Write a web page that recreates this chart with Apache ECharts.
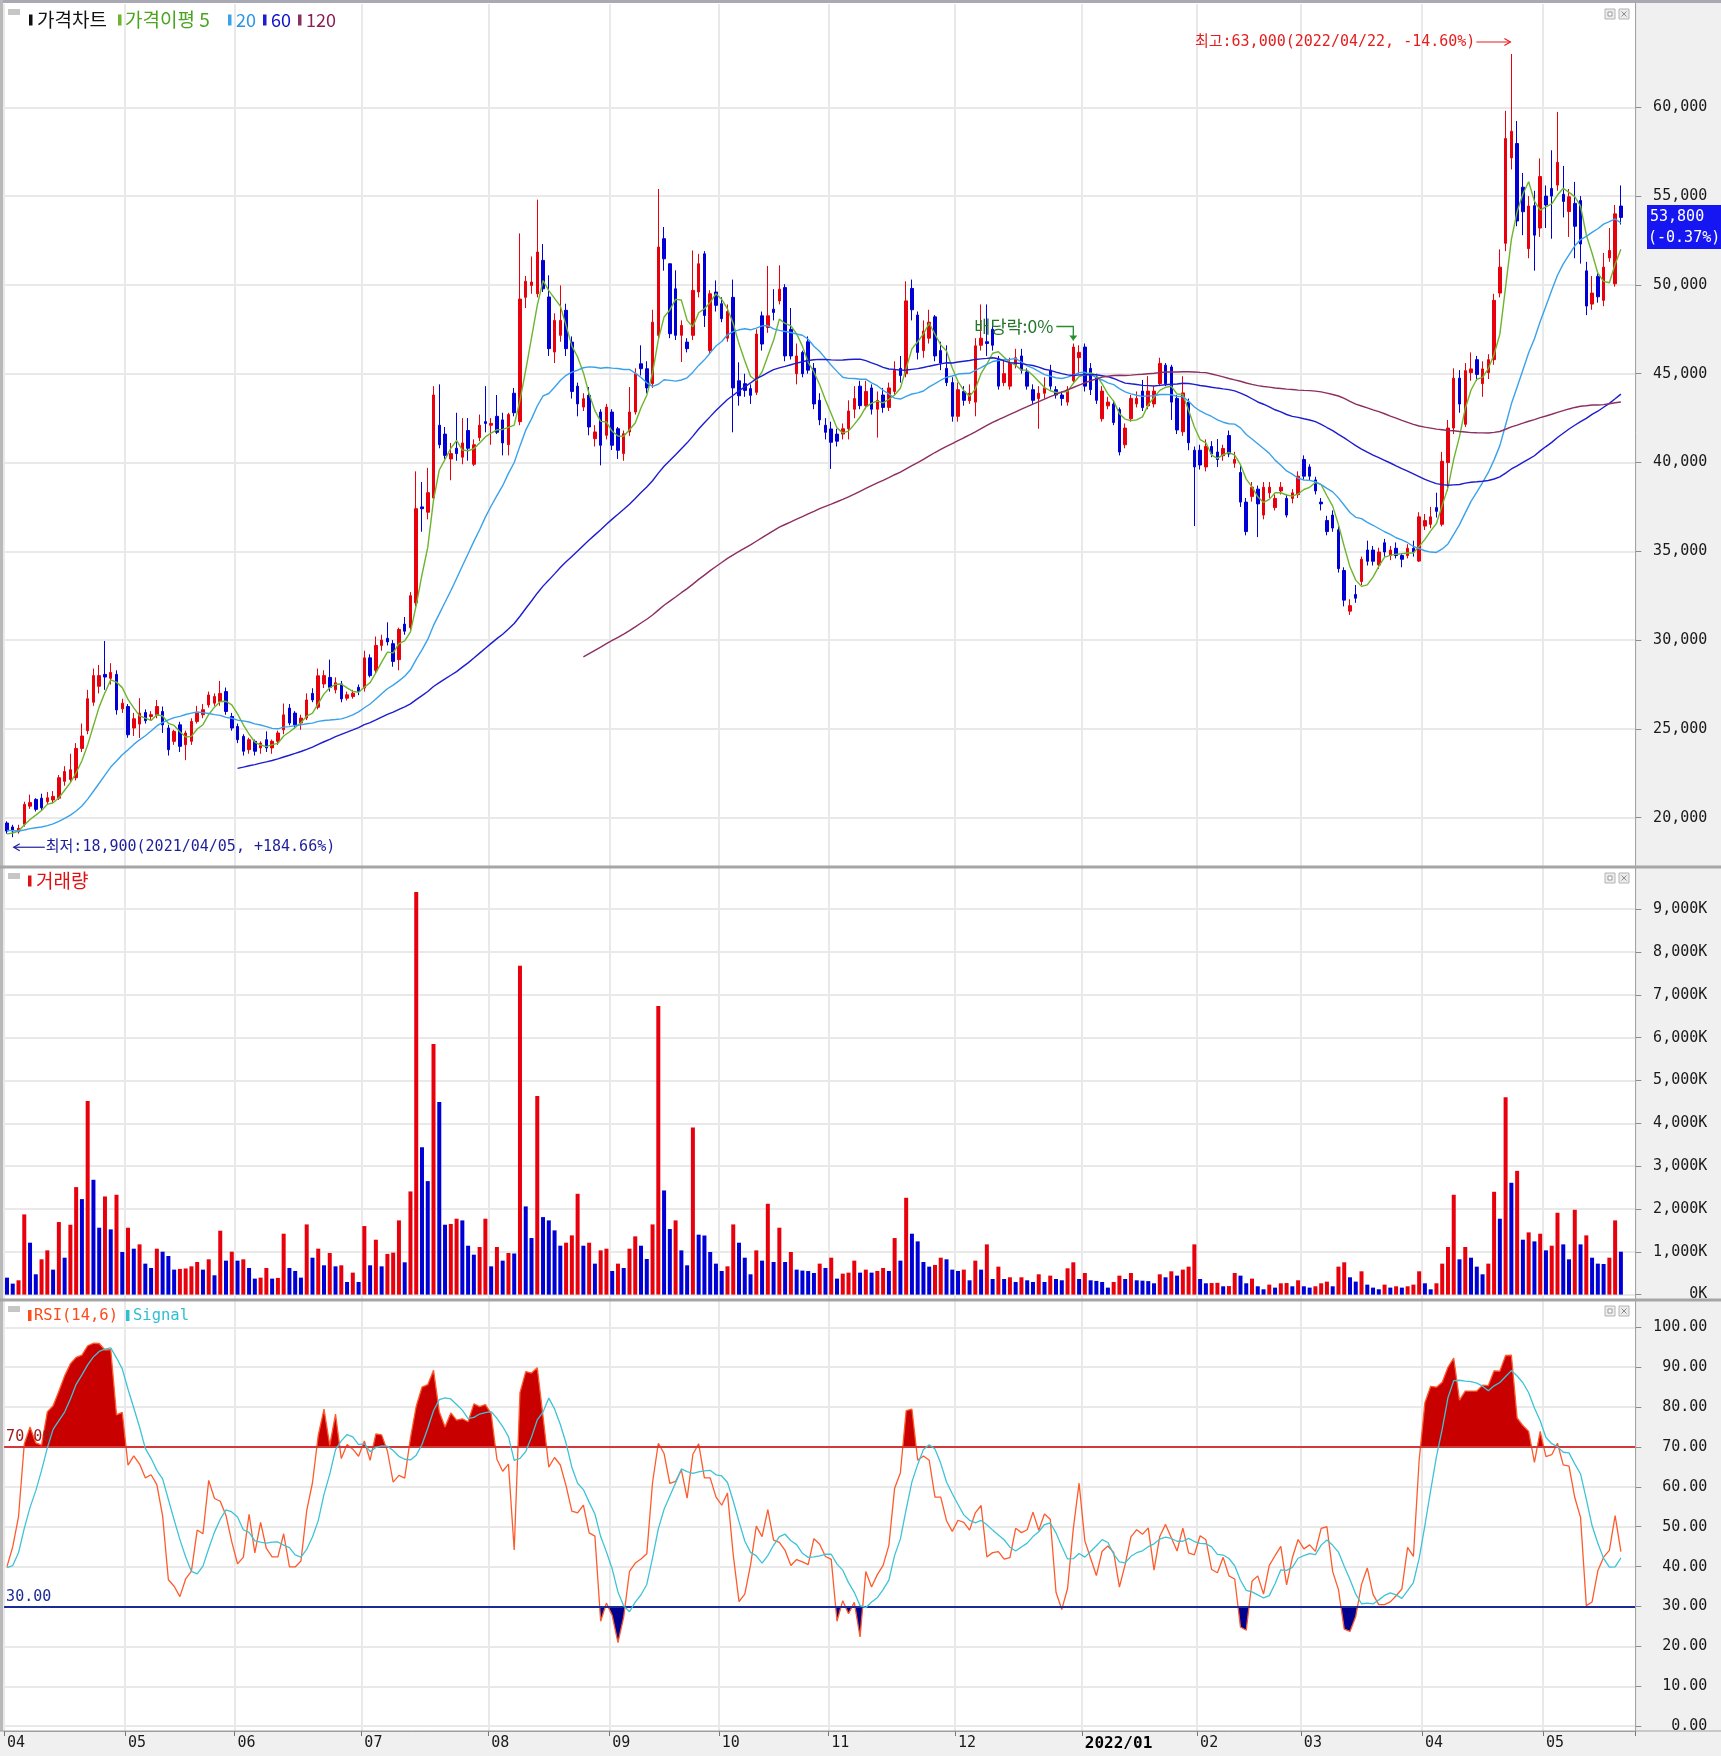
<!DOCTYPE html>
<html><head><meta charset="utf-8">
<script src="https://cdn.jsdelivr.net/npm/echarts/dist/echarts.min.js"></script>
<style>html,body{margin:0;padding:0;background:#fff}#c{width:1721px;height:1756px}</style>
</head><body><div id="c"></div>
<script>
// ---------------- DATA ----------------
const tradingDays = [
  ['2021/04',[2,5,6,7,8,9,12,13,14,15,16,19,20,21,22,23,26,27,28,29,30]],
  ['2021/05',[3,4,6,7,10,11,12,13,14,17,18,20,21,24,25,26,27,28,31]],
  ['2021/06',[1,2,3,4,7,8,9,10,11,14,15,16,17,18,21,22,23,24,25,28,29,30]],
  ['2021/07',[1,2,5,6,7,8,9,12,13,14,15,16,19,20,21,22,23,26,27,28,29,30]],
  ['2021/08',[2,3,4,5,6,9,10,11,12,13,17,18,19,20,23,24,25,26,27,30,31]],
  ['2021/09',[1,2,3,6,7,8,9,10,13,14,15,16,17,23,24,27,28,29,30]],
  ['2021/10',[1,5,6,7,8,12,13,14,15,18,19,20,21,22,25,26,27,28,29]],
  ['2021/11',[1,2,3,4,5,8,9,10,11,12,15,16,17,18,19,22,23,24,25,26,29,30]],
  ['2021/12',[1,2,3,6,7,8,9,10,13,14,15,16,17,20,21,22,23,24,27,28,29,30]],
  ['2022/01',[3,4,5,6,7,10,11,12,13,14,17,18,19,20,21,24,25,26,27,28]],
  ['2022/02',[3,4,7,8,9,10,11,14,15,16,17,18,21,22,23,24,25,28]],
  ['2022/03',[2,3,4,7,8,10,11,14,15,16,17,18,21,22,23,24,25,28,29,30,31]],
  ['2022/04',[1,4,5,6,7,8,11,12,13,14,15,18,19,20,21,22,25,26,27,28,29]],
  ['2022/05',[2,3,4,6,9,10,11,12,13,16,17,18,19,20]]
];

// closes of the days before the first visible candle (they feed the moving averages / RSI)
const preCloses = [19550,19800,19600,19350,19500,19700,19450,19300,19400,19250,19050,19200,19000,18950,19150,19000,18850,19050,19300];

// [open, close, low, high]
const apr21 = [[19700,19250,19100,19800],[19480,19250,18900,19600],[19200,19400,19100,19600],[19630,20750,19500,20900],[20650,20850,20500,21300],[21030,20470,20350,21100],[21100,20560,20400,21350],[20900,21120,20750,21450],[21000,21200,20800,21500],[21100,22250,21000,22400],[22050,22600,21800,22900],[22150,22700,22000,23600],[22250,23900,22100,24200],[23900,24600,23700,25300],[24900,26700,24700,27200],[26500,28000,26300,28400],[27400,28000,27000,28600],[28070,27920,27200,29950],[27850,28180,27500,28700],[28070,26070,25800,28300],[26130,26450,25900,26700]];
const may21 = [[26260,24670,24500,26400],[25050,25570,24600,25900],[25270,25890,24490,26730],[25920,25460,25300,26100],[25700,25800,25500,26000],[25800,26260,25600,26630],[25980,25230,24770,26260],[25050,23830,23500,25230],[24300,24860,24100,24950],[25230,24020,23700,25400],[24110,24770,23240,24900],[24300,25420,24100,25600],[25420,25890,25300,26300],[25800,26080,25600,26400],[26350,26910,26200,27100],[26450,26820,26300,27000],[26540,27000,26300,27700],[27100,25980,25800,27330],[25700,25050,24900,25900]];
const jun21 = [[25140,24390,24200,25300],[24580,23740,23500,24700],[23830,24390,23600,24500],[24300,23740,23500,24400],[23930,24200,23600,24300],[24390,23930,23700,24860],[23930,24300,23600,24400],[24300,24770,24100,24900],[24950,25790,24700,26430],[26170,25330,25200,26400],[25890,25230,25000,26000],[25330,25610,24950,25800],[25610,26630,25500,27000],[27000,26630,26500,27290],[26220,27990,26100,28400],[27530,28000,27300,28300],[27900,27340,27100,28900],[27200,27600,27000,27900],[27530,26690,26500,27700],[26730,26920,26600,27100],[26820,27010,26700,27200],[27340,27100,26900,27500]];
const jul21 = [[27300,29000,27100,29400],[29000,28000,27900,29200],[28300,29700,28100,30200],[29700,30000,29400,30300],[30100,29900,29700,31000],[29800,28800,28500,30000],[28900,30600,28300,30700],[30900,30500,30300,31300],[30700,32500,30500,32700],[32100,37400,31900,39500],[37500,37400,36100,38900],[37200,38300,36800,39700],[38000,43800,37800,44300],[42100,41000,40800,44400],[41600,40400,40200,42000],[40200,40500,39000,41100],[40800,40500,40100,42800],[40300,41100,39900,42500],[41800,40800,40100,42500],[39900,41000,39800,41300],[41400,42100,41200,42700],[42300,42200,41700,44300]];
const aug21 = [[42100,42200,41000,42500],[42600,41700,41600,43800],[42400,41100,40400,42800],[41000,42700,40400,42800],[43900,42800,42600,44200],[42300,49200,42100,52900],[49300,50200,48700,50500],[49970,50160,49500,51600],[49500,51850,49300,54800],[51380,49780,49600,52300],[49320,46410,46000,50540],[46220,48000,45600,48400],[47160,48000,46800,49970],[48570,46410,46000,48940],[46780,44000,43600,47100],[44300,43300,42600,44500],[43120,43590,42900,43900],[43780,42000,41530,44250],[41340,41720,40900,42100],[42840,40970,39840,43000],[41530,43120,41300,43300]];
const sep21 = [[42840,40970,40700,43000],[41900,40690,40200,42000],[40500,41620,40100,41800],[41720,42840,41500,44250],[42840,45000,42700,45300],[45560,45280,44900,46600],[45280,44200,43900,45700],[44440,47900,44200,48600],[47160,52130,47000,55400],[52600,51470,50800,53260],[51190,47250,47000,51200],[49780,47160,46900,50820],[47160,47720,45660,48000],[46780,46410,46200,47000],[47160,49690,46900,51940],[49600,51190,49300,51750],[51750,48280,47630,51900],[46310,49500,46100,49700],[49600,48850,48500,50250]];
const oct21 = [[48940,48100,47900,49300],[47000,48500,46800,48900],[49300,44200,41700,50300],[44600,43760,43200,45640],[44440,44060,43700,45000],[44160,43780,43300,44400],[43950,47230,43800,47500],[48260,46670,46300,48500],[47600,48260,47300,51070],[48630,48450,48000,49760],[49100,49760,48900,51100],[49850,46000,45700,50040],[47500,46000,45800,48700],[45000,46000,44400,46700],[46200,45000,44800,46300],[46800,45200,45000,47100],[45300,43300,43000,45600],[43500,42400,42100,43900],[42100,41700,41300,42500]];
const nov21 = [[41890,41140,39640,42300],[41600,41200,40900,41900],[41600,41900,41300,42200],[41900,42900,41300,43500],[43000,43600,42500,44300],[44300,43200,43000,44600],[43200,44000,43000,44600],[44200,43000,42700,44400],[43000,43500,41400,44000],[43800,43100,42800,44200],[43100,44200,42900,44500],[44000,45200,43800,45700],[45300,44900,44500,46000],[45000,49100,44800,50200],[49800,48600,48000,50300],[48300,46200,45800,48500],[46300,47400,45900,48000],[47000,47900,46700,48600],[48200,46000,45700,48300],[46300,45600,45200,46800],[45300,44500,44300,46600],[44500,42600,42300,44800]];
const dec21 = [[42600,44100,42300,44500],[44000,43500,43200,44300],[43480,43900,43300,44400],[43400,46570,42600,47000],[46600,47000,46300,48900],[46800,46700,46000,48900],[47500,46600,46300,48000],[45800,44300,44100,46000],[44500,45000,44300,45800],[44300,45600,44100,45900],[45500,45900,45300,46400],[46000,45200,45000,46400],[45100,44300,44100,45300],[44100,43500,43300,44400],[43600,43900,41900,44300],[43900,44200,43600,44800],[45200,44300,44100,45500],[44100,43800,43600,44300],[43800,43600,43200,44000],[43400,44100,43200,44300],[44600,46500,44500,46700],[45900,46200,45000,46600]];
const jan22 = [[46500,44300,44000,46700],[45300,44100,43800,45600],[44800,43500,43300,45000],[42460,44020,42300,44300],[43190,43400,43000,43700],[43290,42250,42100,43500],[42980,40590,40400,43100],[41000,41940,40800,42200],[42460,43610,42300,43800],[43300,43610,43100,44000],[44020,43090,42900,44650],[43190,44020,43000,44860],[43300,44020,43100,44300],[44440,45580,44300,45900],[45480,44440,44300,45600],[45380,43400,42400,45500],[43610,41830,41600,43800],[41730,43920,41500,44860],[43400,41110,40690,43600],[40690,39750,36420,40900]];
const feb22 = [[40690,39860,39600,41000],[39750,40900,39500,41300],[40900,40480,40300,41200],[40590,40170,39750,41320],[40380,40790,40100,41000],[41520,40480,40300,41800],[39960,40170,39700,40600],[39440,37770,37500,39800],[37770,36110,35900,38000],[38090,38610,37800,38900],[38500,37670,35800,38700],[37040,38610,36800,38900],[38290,38610,38000,38900],[37460,37980,37300,38200],[38400,38610,38200,38900],[37980,37040,36900,38200],[37980,38290,37700,38500],[38190,39230,38000,39500]];
const mar22 = [[40170,39230,39000,40400],[39750,39230,39000,39900],[39020,38400,38200,39200],[37770,37670,37300,38000],[36730,36110,35900,37000],[37040,36310,36100,37300],[36210,34020,33800,36400],[33920,32250,31900,34100],[31630,31940,31420,32300],[32570,32360,32100,33100],[33300,34550,33100,34700],[35070,34440,34200,35600],[35070,34440,34200,35300],[34230,34960,34000,35200],[35480,34960,34700,35700],[34760,35070,34500,35300],[35170,34760,34600,35500],[34760,34550,34100,34900],[34760,35170,34600,35400],[35170,34960,34700,35600],[34450,36940,34400,37200]];
const apr22 = [[36420,36730,36200,37100],[36520,36940,36300,37500],[37460,37250,36900,38300],[36520,40070,36400,40600],[40000,41940,38400,42400],[41940,44750,41600,45300],[44750,43290,42800,45200],[42150,45170,42000,45600],[45060,45270,44600,46200],[45790,44960,44600,46000],[44440,45270,43700,45700],[45060,45790,44700,46100],[45790,49130,45500,49500],[49540,51000,49300,52000],[52340,58240,51900,59800],[57150,58650,56500,63000],[57960,53600,53300,59230],[55500,54120,52800,56300],[52040,54440,51500,55000],[54460,52800,50800,55300],[53200,56100,52700,57120]];
const may22 = [[55000,54500,53200,55600],[55430,55000,52600,57580],[55620,56900,55300,59740],[55100,54700,53800,56700],[54130,54960,52700,55400],[54590,53300,51500,55800],[54750,52300,51200,55000],[50790,48810,48300,51300],[48920,49540,48600,50500],[50480,49330,49000,50800],[49130,51000,48800,51800],[51520,51940,51300,53200],[50060,54000,49900,54500],[54440,53800,53400,55600]];

// volume, thousands of shares
const volumeK = [
 396,256,334,1873,1212,474,824,1033,583,1694, 862,1632,2510,2230,4522,2681,1562,2292,1523,2331,
 995,1562,1072,1173,723,622,1072,1002,901,583, 600,610,660,761,583,824,451,1492,793,1002,
 793,824,622,373,396,622,373,390,1422,622, 552,396,1639,862,1072,684,971,660,684,295,
 513,295,1601,684,1282,660,950,980,1733,754, 2409,9402,3442,2650,5851,4499,1632,1650,1772,1733,
 1142,932,1111,1772,660,1111,793,971,960,7677, 2059,1321,4639,1810,1733,1500,1142,1212,1383,2354,
 1142,1212,723,1033,1072,552,723,622,1072,1360, 1142,831,1639,6737,2432,1531,1733,1033,684,3900,
 1400,1380,995,723,552,660,1639,1212,862,474, 1033,793,2121,761,1562,761,995,583,560,550,
 505,723,622,862,373,490,513,793,513,583, 513,552,622,552,1321,793,2261,1422,1243,761,
 653,692,862,824,583,552,583,334,793,583, 1173,365,653,365,404,295,404,334,295,474,
 295,443,365,334,614,754,365,505,334,320, 295,163,295,443,365,505,334,325,315,264,
 474,404,544,443,583,653,1173,365,264,270, 275,194,200,505,443,264,373,194,124,233,
 163,264,270,194,334,194,163,194,264,303, 194,653,754,404,303,544,233,163,124,233,
 163,194,163,194,233,544,264,124,264,723, 1111,2331,824,1111,862,653,474,723,2401,1772,
 4608,2611,2890,1282,1453,1243,1422,1033,1142,1911, 1173,824,1981,1173,1383,862,723,715,862,1733,
 1002
];

const priceTicks = [20000, 60000, 5000];   // min, max, step
const volumeTicks = [0, 9000, 1000];
const rsiTicks = [0, 100, 10];
const rsiLevels = [70, 30];
const maPeriods = [5, 20, 60, 120];
const exDividendDate = '2021/12/29';
const exDividendText = '배당락:0%';

// ---------------- BUILD ----------------
const ohlc = [].concat(apr21, may21, jun21, jul21, aug21, sep21, oct21, nov21, dec21, jan22, feb22, mar22, apr22, may22);
const cats = [];
tradingDays.forEach(([m, ds]) => ds.forEach(d => cats.push(m + '/' + String(d).padStart(2, '0'))));
const catsAll = cats.concat(['~1', '~2']);
const monthStart = new Set();
cats.forEach((c, i) => { if (i === 0 || c.slice(0, 7) !== cats[i - 1].slice(0, 7)) monthStart.add(i); });
function monthLabel(i) {
  const c = cats[i]; const y = c.slice(0, 4), m = c.slice(5, 7);
  if (m === '01' && i > 0) return '{b|' + y + '/' + m + '}';
  return m;
}
const closes = ohlc.map(d => d[1]);
const allCloses = preCloses.concat(closes);
const P = preCloses.length;
function ma(n) {
  return closes.map((_, i) => {
    const g = i + P; if (g < n - 1) return null;
    let s = 0; for (let k = g - n + 1; k <= g; k++) s += allCloses[k];
    return +(s / n).toFixed(1);
  });
}
const rsiAll = allCloses.map((c, g) => {
  if (g < 14) return null;
  let u = 0, d = 0;
  for (let k = g - 13; k <= g; k++) { const ch = allCloses[k] - allCloses[k - 1]; if (ch > 0) u += ch; else d -= ch; }
  return (u + d) === 0 ? 50 : 100 * u / (u + d);
});
const sigAll = rsiAll.map((v, g) => {
  if (g < 19) return null; let s = 0; for (let k = g - 5; k <= g; k++) s += rsiAll[k]; return s / 6;
});
const rsi = rsiAll.slice(P).map(v => +v.toFixed(2));
const signal = sigAll.slice(P).map(v => +v.toFixed(2));

const RED = '#e8000c', BLUE = '#0000d6';
const volData = volumeK.map((v, i) => ({ value: v, itemStyle: { color: (i > 0 && v >= volumeK[i - 1]) ? RED : BLUE } }));

const MONO = '"DejaVu Sans Mono", "Noto Sans CJK KR", monospace';
const KR = '"Noto Sans CJK KR", "Noto Sans", sans-serif';
const GL = 4.1, GW = 1631.2;
const grids = [
  { top: 4, height: 862 },          // 0 main frame
  { top: 107.3, height: 710.4 },    // 1 price
  { top: 868, height: 431 },        // 2 volume frame
  { top: 909.2, height: 385.4 },    // 3 volume
  { top: 1301, height: 430 },       // 4 rsi frame
  { top: 1327.3, height: 398.9 },   // 5 rsi
  { top: 1327.3, height: 119.67 },  // 6 rsi >70 fill
  { top: 1606.53, height: 119.67 }  // 7 rsi <30 fill
].map(g => Object.assign({ left: GL, width: GW, outerBoundsMode: 'none', containLabel: false }, g));

const isMonth = (idx) => monthStart.has(idx);
const xAxes = grids.map((g, k) => {
  const frame = (k === 0 || k === 2 || k === 4);
  return {
    type: 'category', gridIndex: k, data: catsAll, boundaryGap: true,
    axisLine: { show: k === 4, lineStyle: { color: '#9a9a9a', width: 1 } },
    axisTick: { show: k === 4, interval: isMonth, length: 5, lineStyle: { color: '#777' } },
    axisLabel: {
      show: k === 4, interval: isMonth, formatter: (v, i) => monthLabel(i), align: 'left', margin: 5,
      color: '#1a1a1a', fontFamily: MONO, fontSize: 15,
      rich: { b: { fontFamily: MONO, fontSize: 16, fontWeight: 'bold', color: '#000' } }
    },
    splitLine: { show: frame, interval: isMonth, lineStyle: { color: '#e9e9e9', width: 2 } }
  };
});
function valAxis(k, min, max, step, fmt) {
  return {
    type: 'value', gridIndex: k, position: 'right', min, max, interval: step,
    axisLine: { show: false },
    axisTick: { show: true, length: 6, lineStyle: { color: '#8c8c8c' } },
    axisLabel: { show: true, align: 'right', margin: 72, formatter: fmt, color: '#1a1a1a', fontFamily: MONO, fontSize: 15 },
    splitLine: { show: true, lineStyle: { color: '#e9e9e9', width: 2 } }
  };
}
const hidden = (k, min, max) => ({ type: 'value', gridIndex: k, min, max, show: false, splitLine: { show: false } });
const yAxes = [
  hidden(0, 0, 1),
  valAxis(1, priceTicks[0], priceTicks[1], priceTicks[2], v => v.toLocaleString('en-US')),
  hidden(2, 0, 1),
  valAxis(3, volumeTicks[0], volumeTicks[1], volumeTicks[2], v => v.toLocaleString('en-US') + 'K'),
  hidden(4, 0, 1),
  valAxis(5, rsiTicks[0], rsiTicks[1], rsiTicks[2], v => v.toFixed(2)),
  hidden(6, rsiLevels[0], 100),
  hidden(7, 0, rsiLevels[1])
];

const maColors = ['#6cb52d', '#3aa2ea', '#1c1cd0', '#8c2f60'];
const series = [
  { type: 'candlestick', name: 'price', xAxisIndex: 1, yAxisIndex: 1, data: ohlc, clip: false, barWidth: 3, z: 2,
    itemStyle: { color: RED, color0: BLUE, borderColor: RED, borderColor0: BLUE, borderWidth: 1 } }
];
maPeriods.forEach((n, j) => series.push({
  type: 'line', name: 'MA' + n, xAxisIndex: 1, yAxisIndex: 1, data: ma(n), symbol: 'none', clip: false, z: 3,
  lineStyle: { color: maColors[j], width: 1.4 }, connectNulls: false
}));
series.push({ type: 'bar', name: 'vol', xAxisIndex: 3, yAxisIndex: 3, data: volData, barWidth: 4, clip: false, z: 2 });
series.push({ type: 'line', name: 'rsiHi', xAxisIndex: 6, yAxisIndex: 6, data: rsi, symbol: 'none', z: 1,
  lineStyle: { width: 0, opacity: 0 }, areaStyle: { color: '#c80000', opacity: 1, origin: 'start' } });
series.push({ type: 'line', name: 'rsiLo', xAxisIndex: 7, yAxisIndex: 7, data: rsi, symbol: 'none', z: 1,
  lineStyle: { width: 0, opacity: 0 }, areaStyle: { color: '#000090', opacity: 1, origin: 'end' } });
series.push({ type: 'line', name: 'RSI', xAxisIndex: 5, yAxisIndex: 5, data: rsi, symbol: 'none', z: 4,
  lineStyle: { color: '#ff5a2c', width: 1.3 },
  markLine: { silent: true, symbol: ['none', 'none'], animation: false, data: [
    { yAxis: rsiLevels[0], lineStyle: { color: '#d23a3a', width: 2, type: 'solid' },
      label: { formatter: '70.00', position: 'insideStartTop', distance: [2, 2], color: '#a01c1c', fontFamily: MONO, fontSize: 15 } },
    { yAxis: rsiLevels[1], lineStyle: { color: '#1c2a94', width: 2, type: 'solid' },
      label: { formatter: '30.00', position: 'insideStartTop', distance: [2, 2], color: '#1c2a94', fontFamily: MONO, fontSize: 15 } }
  ] } });
series.push({ type: 'line', name: 'Signal', xAxisIndex: 5, yAxisIndex: 5, data: signal, symbol: 'none', z: 5,
  lineStyle: { color: '#3ec3d6', width: 1.3 } });

const chart = echarts.init(document.getElementById('c'), null, { renderer: 'canvas' });
chart.setOption({ animation: false, backgroundColor: '#ffffff', grid: grids, xAxis: xAxes, yAxis: yAxes, series });

// ---------------- DECORATIONS / ANNOTATIONS ----------------
const G = [];
const rect = (x, y, w, h, fill, z, extra) => G.push(Object.assign({ type: 'rect', silent: true, z: z == null ? 20 : z, shape: { x, y, width: w, height: h }, style: { fill } }, extra || {}));
const line = (pts, stroke, w, z) => G.push({ type: 'polyline', silent: true, z: z == null ? 20 : z, shape: { points: pts }, style: { stroke, lineWidth: w, fill: null } });
const text = (x, y, s, fill, font, align) => G.push({ type: 'text', silent: true, z: 25, x, y, style: { text: s, fill, font, align: align || 'left', verticalAlign: 'middle' } });

// frame
rect(1636, 0, 85, 1756, '#f0f0f0', -10);
rect(0, 1731, 1721, 25, '#f0f0f0', -10);
line([[1635.5, 0], [1635.5, 1731]], '#a3a3a3', 1);
rect(0, 0, 1721, 3, '#a9a9b5');
rect(0, 0, 3, 1731, '#b9b9b9');
rect(0, 865.5, 1721, 3, '#a6a6a6');
rect(0, 1298.5, 1721, 3, '#a6a6a6');
line([[0, 1731], [1721, 1731]], '#a0a0a0', 1);

// panel header icons
[[9], [873], [1306]].forEach(([yi]) => {
  rect(8, yi, 12, 6, '#c6c6c6');
  rect(1605, yi, 10, 10, '#ececec', 20, { style: { fill: '#ececec', stroke: '#b4b4b4', lineWidth: 1 } });
  rect(1608, yi + 3, 4, 4, '#ffffff', 21, { style: { fill: '#ffffff', stroke: '#9a9a9a', lineWidth: 1 } });
  rect(1619, yi, 10, 10, '#ececec', 20, { style: { fill: '#ececec', stroke: '#b4b4b4', lineWidth: 1 } });
  line([[1621.5, yi + 2.5], [1626.5, yi + 7.5]], '#8a8a8a', 1, 21);
  line([[1626.5, yi + 2.5], [1621.5, yi + 7.5]], '#8a8a8a', 1, 21);
});

// legends
const bar = (x, y, c) => rect(x, y - 5.5, 3.5, 11, c);
bar(29, 20, '#111'); text(37, 20, '가격차트', '#111', `19px ${KR}`);
bar(118, 20, maColors[0]); text(125, 20, '가격이평 5', '#4aa41e', `19px ${KR}`);
bar(228, 20, maColors[1]); text(236, 20, '20', '#2a94e6', `18px ${KR}`);
bar(263, 20, maColors[2]); text(271, 20, '60', '#1212cc', `18px ${KR}`);
bar(298, 20, maColors[3]); text(306, 20, '120', '#8c1e54', `18px ${KR}`);
bar(28, 881, '#e01010'); text(36, 881, '거래량', '#e01010', `19px ${KR}`);
bar(28, 1315.5, '#ff4a1a'); text(34, 1315.5, 'RSI(14,6)', '#ff4a1a', `15.5px ${MONO}`);
bar(126, 1315.5, '#2ebfd2'); text(133, 1315.5, 'Signal', '#2ebfd2', `15.5px ${MONO}`);

// annotations from data
const px = (i, v) => chart.convertToPixel({ gridIndex: 1 }, [cats[i], v]);
const fmt = v => v.toLocaleString('en-US');
let hiI = 0, loI = 0;
ohlc.forEach((d, i) => { if (d[3] > ohlc[hiI][3]) hiI = i; if (d[2] < ohlc[loI][2]) loI = i; });
const last = closes[closes.length - 1], prev = closes[closes.length - 2];
const hiV = ohlc[hiI][3], loV = ohlc[loI][2];
const hiTxt = `최고:${fmt(hiV)}(${cats[hiI]}, ${((last / hiV - 1) * 100).toFixed(2)}%)`;
const loTxt = `최저:${fmt(loV)}(${cats[loI]}, +${((last / loV - 1) * 100).toFixed(2)}%)`;
{
  const [x, y0] = px(hiI, hiV); const y = y0 - 12;
  text(x - 36, y, hiTxt, '#e41e1e', `15px ${MONO}`, 'right');
  line([[x - 35, y], [x - 1, y]], '#e41e1e', 1.2);
  line([[x - 7, y - 3.5], [x - 1, y], [x - 7, y + 3.5]], '#e41e1e', 1.2);
}
{
  const [x, y0] = px(loI, loV); const y = y0 + 10;
  line([[x + 1, y], [x + 32, y]], '#1e1e9c', 1.2);
  line([[x + 7, y - 3.5], [x + 1, y], [x + 7, y + 3.5]], '#1e1e9c', 1.2);
  text(x + 33, y, loTxt, '#1e1e9c', `15px ${MONO}`);
}
{
  const ei = cats.indexOf(exDividendDate);
  const [x, yh] = px(ei, ohlc[ei][3]);
  const tipY = yh - 3, ly = tipY - 14;
  text(x - 20, ly, exDividendText, '#24782a', `17.5px ${KR}`, 'right');
  line([[x - 17, ly], [x, ly], [x, tipY]], '#24902a', 1.3);
  G.push({ type: 'polygon', silent: true, z: 20, shape: { points: [[x - 4, tipY - 5], [x + 4, tipY - 5], [x, tipY]] }, style: { fill: '#24902a' } });
}
{
  const [, y] = px(cats.length - 1, last);
  rect(1647, y - 12.5, 74, 44, '#1616f2', 22);
  text(1650, y, fmt(last), '#ffffff', `15px ${MONO}`);
  text(1648, y + 20.5, `(${((last / prev - 1) * 100).toFixed(2)}%)`, '#ffffff', `15px ${MONO}`);
}
chart.setOption({ graphic: { elements: G } });
</script></body></html>
